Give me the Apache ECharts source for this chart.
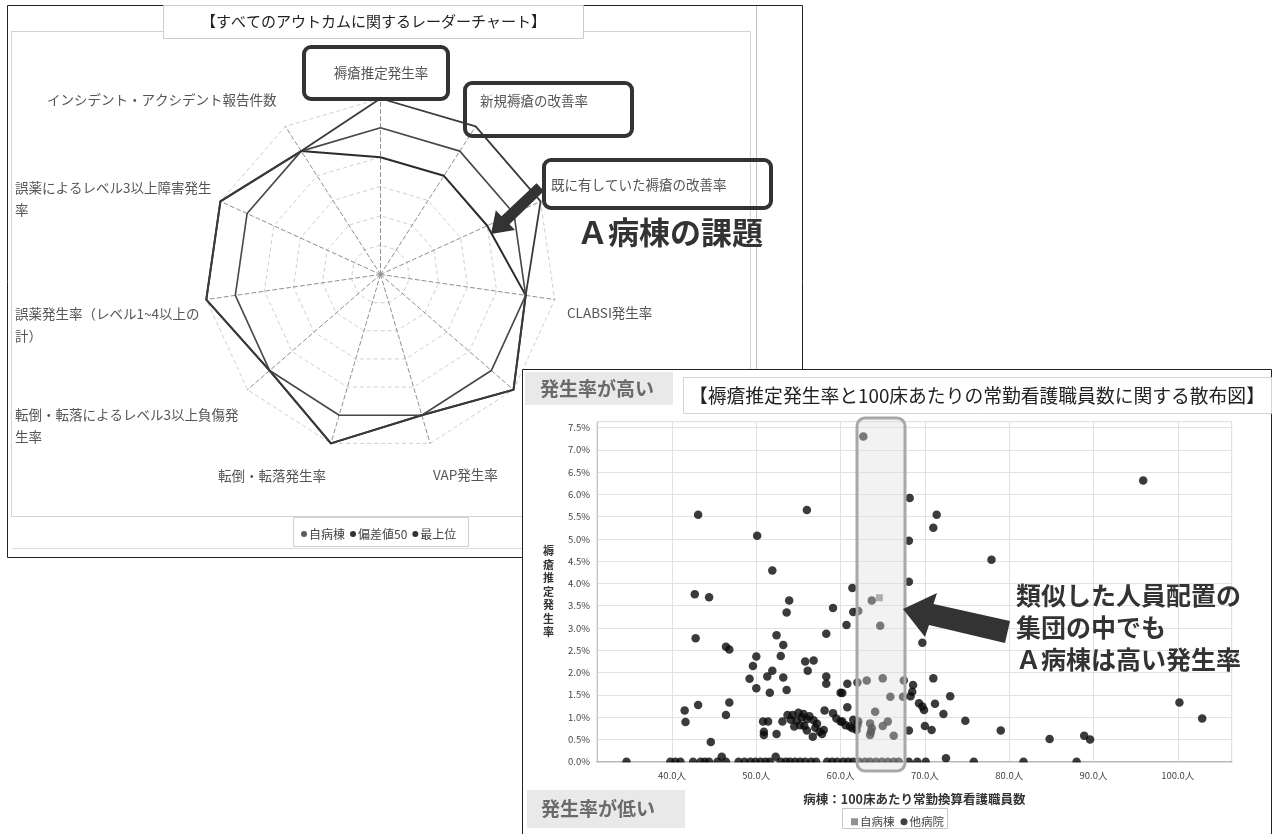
<!DOCTYPE html>
<html>
<head>
<meta charset="utf-8">
<script src="https://cdn.jsdelivr.net/npm/echarts@6/dist/echarts.min.js"></script>
<style>
  html, body { margin: 0; padding: 0; background: #fff; }
  #c { width: 1274px; height: 834px; }
</style>
</head>
<body>
<div id="c"></div>
<script>
const FONT = '"Noto Sans CJK JP", "Noto Sans", sans-serif';

// ---- Radar: outcome deviation scores (axes listed clockwise from the top) ----
const radarAxes = [
  '褥瘡推定発生率',
  '新規褥瘡の改善率',
  '既に有していた褥瘡の改善率',
  'CLABSI発生率',
  'CAUTI発生率',
  'VAP発生率',
  '転倒・転落発生率',
  '転倒・転落によるレベル3以上負傷発生率',
  '誤薬発生率（レベル1~4以上の計）',
  '誤薬によるレベル3以上障害発生率',
  'インシデント・アクシデント報告件数'
];
const radarSeriesNames = ['自病棟', '偏差値50', '最上位'];
const ownWardScores = [40, 40, 40, 50, 60, 50, 60, 50, 60, 60, 50];
const deviation50Scores = [50, 50, 50, 50, 50, 50, 50, 50, 50, 50, 50];
const topWardScores = [60, 60, 60, 50, 60, 50, 60, 50, 60, 60, 50];
const radarMin = 0;
const radarMax = 60;

// ---- Scatter: nurses per 100 beds (x) vs estimated pressure-ulcer rate in % (y) ----
const ownWardPoints = [[64.6, 3.68]];
const otherWardPoints = [
  [43.1, 5.54], [50.1, 5.07], [56.0, 5.65], [51.9, 4.29], [42.7, 3.76], [44.4, 3.69],
  [53.9, 3.62], [62.7, 7.30], [61.4, 3.90], [63.7, 3.62], [59.1, 3.45], [53.6, 3.35],
  [60.7, 3.07], [61.5, 3.36], [62.1, 3.38], [64.7, 3.05], [58.3, 2.87], [52.4, 2.84],
  [53.2, 2.62], [50.0, 2.36], [52.9, 2.37], [49.6, 2.15], [55.8, 2.25], [56.8, 2.27],
  [56.1, 2.04], [49.2, 1.86], [51.9, 2.04], [51.3, 1.91], [53.2, 1.89], [58.3, 1.91],
  [58.3, 1.75], [50.0, 1.65], [51.6, 1.55], [53.6, 1.61], [60.0, 1.55], [60.8, 1.75],
  [62.0, 1.78], [63.1, 1.82], [65.0, 1.87], [67.5, 1.82], [65.9, 1.46], [67.4, 1.46],
  [60.8, 1.22], [58.1, 1.15], [41.5, 1.15], [41.6, 0.89], [43.1, 1.27], [46.8, 1.33],
  [46.4, 1.05], [44.6, 0.44], [42.8, 2.77], [46.4, 2.58], [46.8, 2.52], [50.8, 0.90],
  [51.4, 0.90], [50.9, 0.67], [50.9, 0.60], [52.4, 0.62], [53.1, 0.90], [53.7, 1.05],
  [54.3, 1.05], [55.0, 1.10], [55.6, 1.07], [56.3, 1.02], [54.1, 0.94], [54.8, 0.92],
  [55.4, 1.00], [56.0, 0.95], [56.8, 0.93], [57.2, 0.85], [54.5, 0.79], [55.2, 0.82],
  [55.7, 0.80], [56.0, 0.70], [57.0, 0.76], [57.5, 0.67], [58.0, 0.71], [56.7, 0.56],
  [57.8, 0.62], [59.1, 1.09], [59.5, 0.97], [60.0, 0.90], [60.6, 0.82], [61.1, 0.79],
  [61.5, 0.94], [61.4, 0.75], [60.2, 0.90], [62.1, 0.90], [63.5, 0.86], [63.7, 0.75],
  [63.5, 0.60], [63.6, 0.67], [64.1, 1.12], [65.0, 0.80], [65.6, 0.90], [66.3, 0.58],
  [62.0, 0.82], [61.9, 0.71], [68.2, 5.92], [71.4, 5.54], [71.0, 5.25], [68.1, 4.96],
  [68.1, 4.04], [69.7, 2.67], [71.0, 1.87], [68.6, 1.72], [68.5, 1.57], [73.0, 1.47],
  [68.3, 1.47], [69.3, 1.31], [69.7, 1.24], [69.9, 1.16], [71.2, 1.30], [72.2, 1.07],
  [74.8, 0.92], [68.1, 0.70], [70.0, 0.80], [70.8, 0.71], [79.0, 0.70], [84.8, 0.51],
  [88.9, 0.58], [89.6, 0.50], [100.2, 1.33], [102.9, 0.97], [95.9, 6.31], [77.9, 4.53],
  [60.2, 1.54], [45.9, 0.11], [52.3, 0.11], [72.5, 0.08],
  [34.6, 0], [39.8, 0], [40.4, 0], [41.0, 0], [42.5, 0], [43.4, 0], [43.9, 0], [44.4, 0],
  [45.4, 0], [46.4, 0], [47.9, 0], [48.6, 0], [49.3, 0], [49.9, 0], [50.5, 0], [51.1, 0],
  [51.6, 0], [52.9, 0], [53.5, 0], [54.0, 0], [54.6, 0], [55.2, 0], [55.8, 0], [56.5, 0],
  [57.1, 0], [58.4, 0], [59.0, 0], [59.6, 0], [60.3, 0], [60.9, 0], [61.5, 0], [62.2, 0],
  [62.9, 0], [63.5, 0], [64.2, 0], [64.9, 0], [65.6, 0], [66.3, 0], [66.9, 0], [68.1, 0],
  [69.1, 0], [70.1, 0], [75.8, 0], [81.7, 0], [88.0, 0]
];
const scatterSeriesNames = ['自病棟', '他病院'];

// ---- Text blocks ----
const radarTitle = '【すべてのアウトカムに関するレーダーチャート】';
const radarNote = 'Ａ病棟の課題';
const scatterTitle = '【褥瘡推定発生率と100床あたりの常勤看護職員数に関する散布図】';
const highNote = '発生率が高い';
const lowNote = '発生率が低い';
const scatterNote = '類似した人員配置の\n集団の中でも\nＡ病棟は高い発生率';
const xAxisName = '病棟：100床あたり常勤換算看護職員数';
const yAxisName = '褥瘡推定発生率';

// ECharts lays radar indicators out counter-clockwise; reorder the clockwise lists.
const ccwOrder = radarAxes.map((_, i) => (i === 0 ? 0 : radarAxes.length - i));
const ccw = arr => ccwOrder.map(i => arr[i]);

// Where each radar axis caption sits (wrap = characters on the first line)
const radarLabelLayout = [
  { x: 381, y: 73, align: 'center' },
  { x: 480, y: 101 },
  { x: 551, y: 185 },
  { x: 567, y: 313 },
  { x: 548, y: 440 },
  { x: 433, y: 475 },
  { x: 218, y: 476 },
  { x: 15, y: 415, wrap: 17 },
  { x: 15, y: 314, wrap: 15 },
  { x: 15, y: 188, wrap: 15 },
  { x: 47, y: 100 }
];

const graphics = [];
function rect(x, y, w, h, style, z, r) {
  graphics.push({ type: 'rect', z: z, shape: { x: x, y: y, width: w, height: h, r: r || 0 }, style: style, silent: true });
}
function line(x1, y1, x2, y2, stroke, z) {
  graphics.push({ type: 'line', z: z, shape: { x1: x1, y1: y1, x2: x2, y2: y2 }, style: { stroke: stroke, lineWidth: 1 }, silent: true });
}
function text(str, x, y, opts, z) {
  graphics.push({
    type: 'text', z: z, x: x, y: y, silent: true,
    style: Object.assign({ text: str, fontFamily: FONT, fontSize: 13.5, fill: '#555', align: 'left', verticalAlign: 'middle' }, opts)
  });
}
function poly(points, fill, z) {
  graphics.push({ type: 'polygon', z: z, shape: { points: points }, style: { fill: fill }, silent: true });
}

// Radar panel frame
rect(7.5, 5.5, 795, 552, { fill: '#fff', stroke: '#222', lineWidth: 1 }, 0);
rect(11.5, 31.5, 739, 485, { fill: 'none', stroke: '#d4d4d4', lineWidth: 1 }, 0);
line(756.5, 6, 756.5, 369, '#c2c2c2', 0);
line(12, 548.5, 522, 548.5, '#dcdcdc', 0);
rect(293.5, 517.5, 175, 29, { fill: '#fff', stroke: '#cfcfcf', lineWidth: 1 }, 0.5);
rect(163.5, 5.5, 420, 33, { fill: '#fff', stroke: '#cccccc', lineWidth: 1 }, 3);
text(radarTitle, 373.5, 21.5, { fontSize: 15, fill: '#222', align: 'center' }, 3);

// Radar axis captions
radarAxes.forEach((name, i) => {
  const L = radarLabelLayout[i];
  if (L.wrap) {
    text(name.slice(0, L.wrap) + '\n' + name.slice(L.wrap), L.x, L.y - 11,
      { verticalAlign: 'top', lineHeight: 22 }, 3);
  } else {
    text(name, L.x, L.y, { align: L.align || 'left' }, 3);
  }
});

// Highlight frames, arrow and note on the radar
const hl = { fill: 'none', stroke: '#333', lineWidth: 4 };
rect(304, 47, 144, 52, hl, 3, 7);
rect(465, 83, 167, 53, hl, 3, 7);
rect(544, 160, 227, 48, hl, 3, 7);
poly([[491, 234], [515, 230], [509.5, 224.2], [544, 191], [536.5, 183.2], [501.5, 216.2], [495.8, 210.2]], '#333', 3);
text(radarNote, 577, 232, { fontSize: 31, fontWeight: 'bold', fill: '#333' }, 3);

// Scatter panel
rect(522.5, 369.5, 749, 466, { fill: '#fff', stroke: '#222', lineWidth: 1 }, 3);
rect(525, 372, 148, 33, { fill: '#e9e9e9' }, 3.2);
text(highNote, 540, 389, { fontSize: 19, fontWeight: 'bold', fill: '#6a6a6a' }, 3.3);
rect(683.5, 377.5, 588, 36, { fill: '#fff', stroke: '#d2d2d2', lineWidth: 1 }, 3.2);
text(scatterTitle, 689, 395.5, { fontSize: 18.8, fill: '#222' }, 3.3);
rect(527, 790, 158, 38, { fill: '#e9e9e9' }, 3.2);
text(lowNote, 541, 809, { fontSize: 19, fontWeight: 'bold', fill: '#6a6a6a' }, 3.3);
rect(842.5, 808.5, 105, 20, { fill: '#fff', stroke: '#c8c8c8', lineWidth: 1 }, 3.2);
// lower halves of the markers sitting on the 0% line are hidden below the axis
rect(597, 762.6, 635, 5, { fill: '#fff' }, 5.5);
// shaded group of wards with similar staffing
rect(857, 418, 48, 353, { fill: 'rgba(222,222,222,0.38)', stroke: '#a8a8a8', lineWidth: 3 }, 6, 8);
poly([[903, 609], [937, 593], [933.5, 604], [1010, 621], [1005, 643], [929, 625], [925, 637]], '#333', 7);
text(scatterNote, 1016, 579, { fontSize: 25, fontWeight: 'bold', fill: '#333', verticalAlign: 'top', lineHeight: 32 }, 7);

const option = {
  animation: false,
  backgroundColor: '#fff',
  textStyle: { fontFamily: FONT },
  legend: [
    {
      data: radarSeriesNames.map(n => ({ name: n, icon: 'circle', itemStyle: { color: '#333' } })),
      left: 296, top: 523, itemWidth: 6, itemHeight: 6, itemGap: 5, selectedMode: false, z: 1,
      textStyle: { fontSize: 12, color: '#444', fontFamily: FONT, padding: [0, 0, 0, -3] }
    },
    {
      data: [
        { name: scatterSeriesNames[0], icon: 'rect', itemStyle: { color: '#777' } },
        { name: scatterSeriesNames[1], icon: 'circle', itemStyle: { color: '#111' } }
      ],
      left: 846, top: 811, itemWidth: 7, itemHeight: 7, itemGap: 6, selectedMode: false, z: 8,
      textStyle: { fontSize: 11.5, color: '#444', fontFamily: FONT, padding: [0, 0, 0, -3] }
    }
  ],
  radar: {
    center: [380.5, 274.5],
    radius: 176,
    startAngle: 90,
    splitNumber: 6,
    shape: 'polygon',
    z: 1,
    indicator: ccw(radarAxes).map(n => ({ name: n, min: radarMin, max: radarMax })),
    axisName: { show: false },
    axisLine: { lineStyle: { color: '#8f8f8f', width: 1, type: [4, 3] } },
    splitLine: { lineStyle: { color: '#cfcfcf', width: 1, type: [4, 3] } },
    splitArea: { show: false }
  },
  grid: {
    left: 597, top: 421.7, right: 42.3, bottom: 72.3,
    show: true, backgroundColor: '#fff', borderColor: '#d2d2d2', borderWidth: 1, z: 4
  },
  xAxis: {
    type: 'value', min: 31.1, max: 106.4, splitNumber: 8, minInterval: 10, maxInterval: 10, z: 4,
    name: xAxisName, nameLocation: 'middle', nameGap: 31,
    nameTextStyle: { fontSize: 12.5, fontWeight: 'bold', color: '#333', fontFamily: FONT },
    axisLine: { lineStyle: { color: '#a8a8a8', width: 1.5 } },
    axisTick: { show: false },
    axisLabel: {
      showMinLabel: false, showMaxLabel: false, margin: 9,
      fontSize: 9.5, color: '#444', fontFamily: FONT,
      formatter: v => v.toFixed(1) + '人'
    },
    splitLine: { lineStyle: { color: '#e0e0e0' } }
  },
  yAxis: {
    type: 'value', min: 0, max: 7.63, interval: 0.5, z: 4,
    name: yAxisName.split('').join('\n'), nameLocation: 'middle', nameGap: 43, nameRotate: 0,
    nameTextStyle: { fontSize: 11, fontWeight: 'bold', color: '#333', lineHeight: 13.5, fontFamily: FONT },
    axisLine: { show: true, lineStyle: { color: '#c4c4c4' } },
    axisTick: { show: false },
    axisLabel: {
      showMaxLabel: false, margin: 7,
      fontSize: 9.5, color: '#444', fontFamily: FONT,
      formatter: v => v.toFixed(1) + '%'
    },
    splitLine: { lineStyle: { color: '#e2e2e2' } }
  },
  series: [
    {
      type: 'radar', z: 2, symbol: 'none',
      data: [
        { name: radarSeriesNames[0], value: ccw(ownWardScores), lineStyle: { color: '#2b2b2b', width: 2 }, itemStyle: { color: '#2b2b2b' } },
        { name: radarSeriesNames[1], value: ccw(deviation50Scores), lineStyle: { color: '#484848', width: 1.6 }, itemStyle: { color: '#484848' } },
        { name: radarSeriesNames[2], value: ccw(topWardScores), lineStyle: { color: '#3a3a3a', width: 1.8 }, itemStyle: { color: '#3a3a3a' } }
      ]
    },
    {
      name: scatterSeriesNames[1], type: 'scatter', z: 5,
      symbol: 'circle', symbolSize: 8.5,
      itemStyle: { color: '#0a0a0a' },
      data: otherWardPoints
    },
    {
      name: scatterSeriesNames[0], type: 'scatter', z: 5,
      symbol: 'rect', symbolSize: 7,
      itemStyle: { color: '#777' },
      data: ownWardPoints
    }
  ],
  graphic: { elements: graphics }
};

const chart = echarts.init(document.getElementById('c'), null, { renderer: 'canvas', width: 1274, height: 834 });
chart.setOption(option);
</script>
</body>
</html>
